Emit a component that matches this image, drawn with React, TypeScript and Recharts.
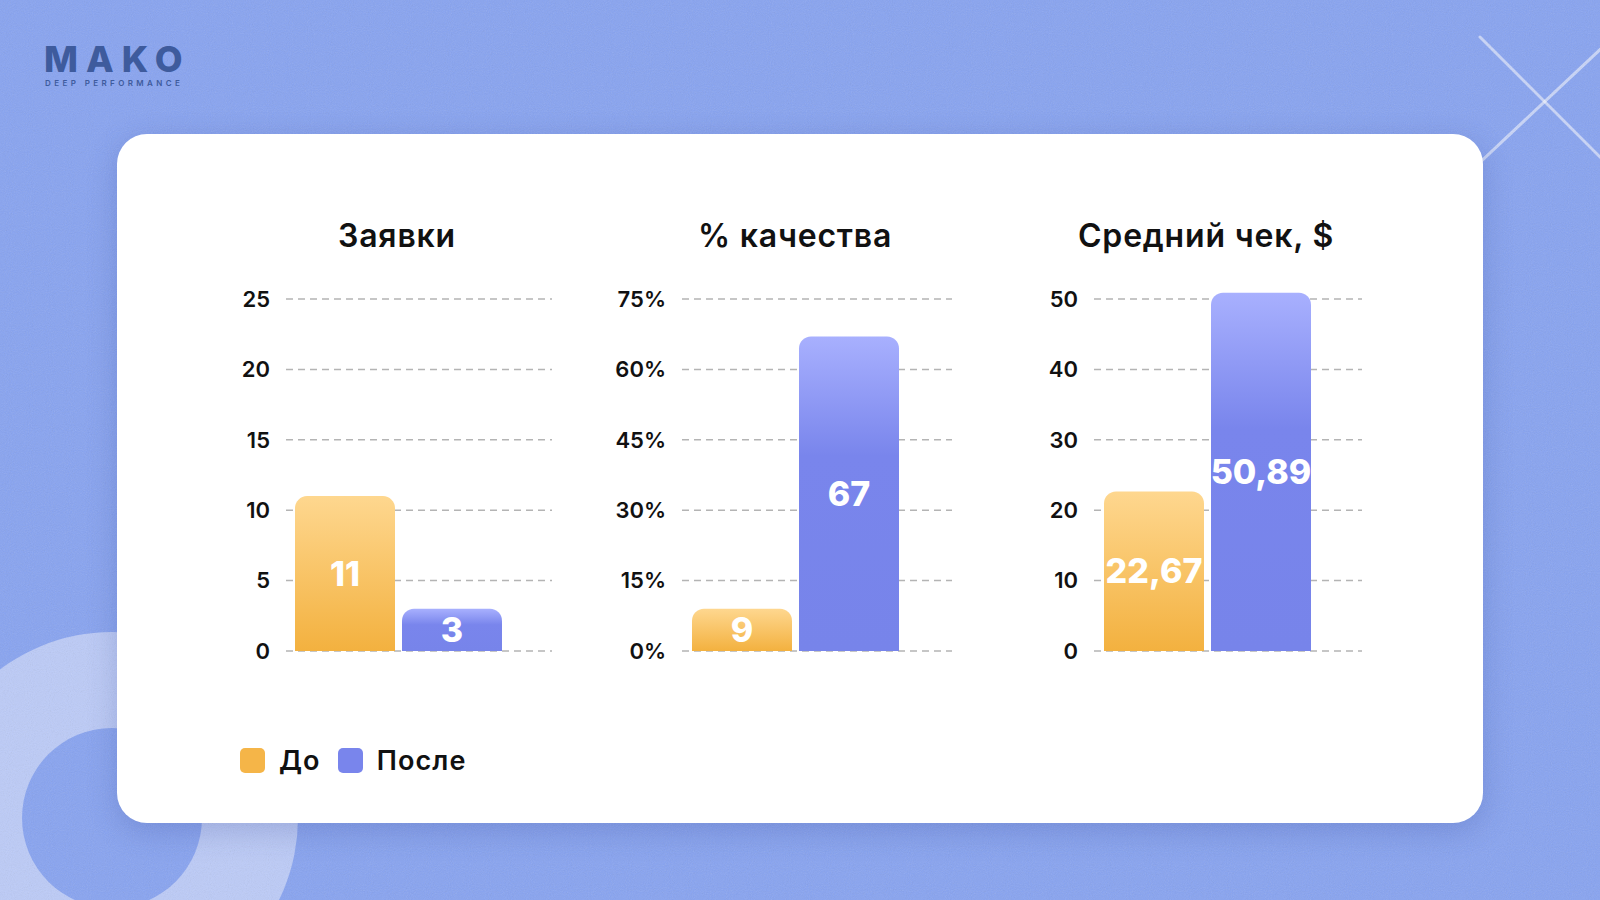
import { BarChart, Bar, XAxis, YAxis, CartesianGrid, LabelList } from "recharts";

const FONT = "Inter, 'Noto Sans', sans-serif";

const titles = ["Заявки", "% качества", "Средний чек, $"];
const beforeValues = [11, 9, 22.67];
const afterValues = [3, 67, 50.89];
const yTicks = [
  [0, 5, 10, 15, 20, 25],
  [0, 15, 30, 45, 60, 75],
  [0, 10, 20, 30, 40, 50],
];
const tickSuffix = ["", "%", ""];
const seriesNames = ["До", "После"];

// layout of the three panels (page coords)
const PANELS = [
  { left: 200, yAxisWidth: 86, right: 28, padRight: 41, center: 397 },
  { left: 590, yAxisWidth: 92, right: 18, padRight: 44, center: 795 },
  { left: 1000, yAxisWidth: 94, right: 18, padRight: 42, center: 1206 },
];
const CHART_TOP = 280;
const CHART_W = 380;
const CHART_H = 400;
const PLOT_BOTTOM_MARGIN = 29;
const GRID_SPAN = 352; // px between 0 and last tick

const ORANGE = "#F5B548";
const PURPLE = "#7985EC";

const fmt = (v: any) => String(v).replace(".", ",");

function Panel({ i }: { i: number }) {
  const p = PANELS[i];
  const ticks = yTicks[i];
  const last = ticks[ticks.length - 1];
  const top = Math.max(last, beforeValues[i], afterValues[i]);
  const plotH = (GRID_SPAN * top) / last;
  const data = [{ name: titles[i], before: beforeValues[i], after: afterValues[i] }];

  return (
    <div style={{ position: "absolute", left: p.left, top: CHART_TOP }}>
      <BarChart
        width={CHART_W}
        height={CHART_H}
        data={data}
        margin={{ top: CHART_H - PLOT_BOTTOM_MARGIN - plotH, right: p.right, bottom: PLOT_BOTTOM_MARGIN, left: 0 }}
        barSize={100}
        barGap={7}
      >
        <defs>
          <linearGradient id={`gOrange${i}`} x1="0" y1="0" x2="0" y2="1">
            <stop offset="0%" stopColor="#FED78F" />
            <stop offset="100%" stopColor="#F3B13F" />
          </linearGradient>
          <linearGradient id={`gPurple${i}`} x1="0" y1="0" x2="0" y2="1">
            <stop offset="0%" stopColor="#A8B0FE" />
            <stop offset="38%" stopColor="#7985EC" />
            <stop offset="100%" stopColor="#7784EA" />
          </linearGradient>
        </defs>
        <CartesianGrid
          vertical={false}
          horizontalValues={ticks}
          stroke="#b4b4b4"
          strokeWidth={1.5}
          strokeDasharray="7 5"
        />
        <XAxis dataKey="name" hide padding={{ left: 0, right: p.padRight }} />
        <YAxis
          width={p.yAxisWidth}
          domain={[0, top]}
          ticks={ticks}
          interval={0}
          axisLine={false}
          tickLine={false}
          tickMargin={10}
          tickFormatter={(v: number) => `${v}${tickSuffix[i]}`}
          tick={{ fill: "#111", fontSize: 22, fontWeight: 600, fontFamily: FONT }}
        />
        <Bar dataKey="before" name={seriesNames[0]} fill={`url(#gOrange${i})`} radius={[12, 12, 0, 0]} isAnimationActive={false}>
          <LabelList dataKey="before" position="center" formatter={fmt} fill="#fff" fontSize={34} fontWeight={800} fontFamily={FONT} />
        </Bar>
        <Bar dataKey="after" name={seriesNames[1]} fill={`url(#gPurple${i})`} radius={[12, 12, 0, 0]} isAnimationActive={false}>
          <LabelList dataKey="after" position="center" formatter={fmt} fill="#fff" fontSize={34} fontWeight={800} fontFamily={FONT} />
        </Bar>
      </BarChart>
    </div>
  );
}

export default function App() {
  return (
    <div
      style={{
        position: "absolute",
        left: 0,
        top: 0,
        width: 1600,
        height: 900,
        overflow: "hidden",
        background: "#87A3F1",
        fontFamily: FONT,
      }}
    >
      {/* background decoration */}
      <svg width={1600} height={900} style={{ position: "absolute", left: 0, top: 0 }}>
        <filter id="grain">
          <feTurbulence type="fractalNoise" baseFrequency="0.95" numOctaves={2} stitchTiles="stitch" />
          <feColorMatrix type="saturate" values="0" />
        </filter>
        <circle cx={112} cy={818} r={186} fill="#BCCBF8" />
        <circle cx={112} cy={818} r={90} fill="#87A3F1" />
        <line x1={1480} y1={37} x2={1640} y2={197} stroke="rgba(255,255,255,0.55)" strokeWidth={3} strokeLinecap="round" />
        <line x1={1640} y1={12} x2={1440} y2={200} stroke="rgba(255,255,255,0.55)" strokeWidth={3} strokeLinecap="round" />
        <rect width={1600} height={900} filter="url(#grain)" opacity={0.18} />
      </svg>

      {/* logo */}
      <div
        style={{
          position: "absolute",
          left: 44,
          top: 41,
          color: "#3E5B9D",
          fontWeight: 800,
          fontSize: 36,
          letterSpacing: 8,
          lineHeight: "36px",
        }}
      >
        MAKO
      </div>
      <div
        style={{
          position: "absolute",
          left: 45,
          top: 79,
          color: "#3E5B9D",
          fontWeight: 600,
          fontSize: 8,
          letterSpacing: 3.4,
          lineHeight: "9px",
        }}
      >
        DEEP PERFORMANCE
      </div>

      {/* card */}
      <div
        style={{
          position: "absolute",
          left: 117,
          top: 134,
          width: 1366,
          height: 689,
          borderRadius: 30,
          background: "#fff",
          boxShadow: "0 8px 30px rgba(40,60,140,0.22)",
        }}
      />

      {titles.map((t, i) => (
        <div
          key={t}
          style={{
            position: "absolute",
            left: PANELS[i].center - 200,
            width: 400,
            top: 220,
            textAlign: "center",
            fontSize: 32,
            fontWeight: 600,
            letterSpacing: 0.8,
            lineHeight: "32px",
            color: "#111",
          }}
        >
          {t}
        </div>
      ))}

      {titles.map((_, i) => (
        <Panel key={i} i={i} />
      ))}

      {/* legend */}
      <div style={{ position: "absolute", left: 240, top: 748, display: "flex", alignItems: "center" }}>
        {seriesNames.map((n, k) => (
          <div key={n} style={{ display: "flex", alignItems: "center", marginRight: 17 }}>
            <div style={{ width: 25, height: 25, borderRadius: 5, background: k === 0 ? ORANGE : PURPLE }} />
            <span
              style={{
                marginLeft: 14,
                fontSize: 27,
                fontWeight: 600,
                letterSpacing: 1.1,
                color: "#111",
                lineHeight: "25px",
              }}
            >
              {n}
            </span>
          </div>
        ))}
      </div>
    </div>
  );
}
